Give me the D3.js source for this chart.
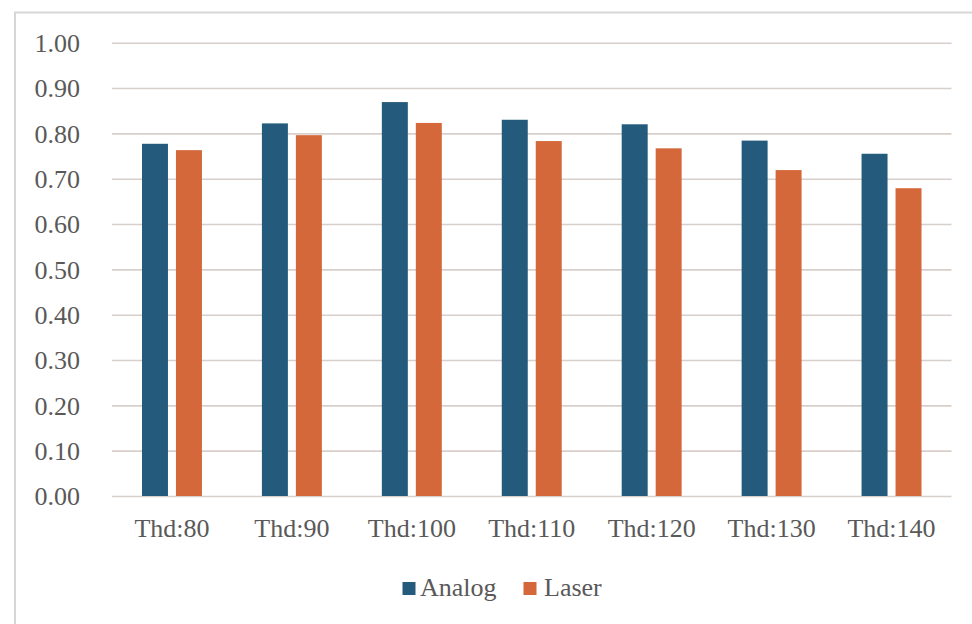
<!DOCTYPE html>
<html>
<head>
<meta charset="utf-8">
<script src="https://cdn.jsdelivr.net/npm/d3@7"></script>
<style>
  html, body { margin: 0; padding: 0; background: #ffffff; }
  svg { display: block; }
  text { font-family: "Liberation Serif", "DejaVu Serif", serif; fill: #595959; }
</style>
</head>
<body>
<svg id="chart" width="972" height="624"></svg>
<script>
// Thresholds along the x axis
const categories = ["Thd:80", "Thd:90", "Thd:100", "Thd:110", "Thd:120", "Thd:130", "Thd:140"];
// Series
const seriesNames = ["Analog", "Laser"];
const analogValues = [0.777, 0.822, 0.869, 0.830, 0.820, 0.784, 0.755];
const laserValues  = [0.763, 0.796, 0.823, 0.783, 0.767, 0.719, 0.679];
// Y axis ticks
const yTicks = [0, 0.1, 0.2, 0.3, 0.4, 0.5, 0.6, 0.7, 0.8, 0.9, 1.0];

const colors = { Analog: "#245b7c", Laser: "#d4683a" };

const svg = d3.select("#chart");
const W = 972, H = 624;

// Chart frame
svg.append("rect")
  .attr("x", 15).attr("y", 12.5)
  .attr("width", W + 20).attr("height", H + 20)
  .attr("fill", "#ffffff")
  .attr("stroke", "#d6d6d6").attr("stroke-width", 2);

const plot = { left: 112, right: 951.5, top: 42.7, bottom: 496 };

const x0 = d3.scaleBand().domain(categories).range([plot.left, plot.right]).padding(0);
const groupWidth = x0.bandwidth() * 0.5;
const x1 = d3.scaleBand().domain(seriesNames)
  .range([(x0.bandwidth() - groupWidth) / 2, (x0.bandwidth() + groupWidth) / 2])
  .paddingInner(8 / 34).paddingOuter(0);
const y = d3.scaleLinear().domain([0, 1]).range([plot.bottom, plot.top]);

// Gridlines
const yAxis = d3.axisLeft(y).tickValues(yTicks).tickSize(-(plot.right - plot.left)).tickFormat(d3.format(".2f"));
const gy = svg.append("g").attr("transform", `translate(${plot.left},0)`).call(yAxis);
gy.select(".domain").remove();
gy.selectAll(".tick line").attr("stroke", "#d8cfcb").attr("stroke-width", 1.6);
gy.selectAll(".tick text")
  .attr("x", -32).attr("dy", "0.34em")
  .style("font-size", "26px").attr("fill", "#595959")
  .style("font-family", "'Liberation Serif', serif");

// Bars
const rows = categories.map((c, i) => ({ cat: c, Analog: analogValues[i], Laser: laserValues[i] }));
const groups = svg.append("g").selectAll("g").data(rows).join("g")
  .attr("transform", d => `translate(${x0(d.cat)},0)`);
groups.selectAll("rect")
  .data(d => seriesNames.map(s => ({ s, v: d[s] })))
  .join("rect")
  .attr("x", d => x1(d.s))
  .attr("width", x1.bandwidth())
  .attr("y", d => y(d.v))
  .attr("height", d => y(0) - y(d.v))
  .attr("fill", d => colors[d.s]);

// Category axis labels
const xAxis = d3.axisBottom(x0).tickSize(0).tickPadding(0);
const gx = svg.append("g").attr("transform", `translate(0,${plot.bottom})`).call(xAxis);
gx.select(".domain").remove();
gx.selectAll(".tick text")
  .attr("y", 41).attr("dy", 0)
  .style("font-size", "26px").attr("fill", "#595959")
  .style("font-family", "'Liberation Serif', serif");

// Legend
const legendItems = [
  { name: "Analog", sx: 402.5, tx: 420 },
  { name: "Laser", sx: 523.5, tx: 544 }
];
const legend = svg.append("g");
legendItems.forEach(it => {
  legend.append("rect")
    .attr("x", it.sx).attr("y", 582)
    .attr("width", 13).attr("height", 13)
    .attr("fill", colors[it.name]);
  legend.append("text")
    .attr("x", it.tx).attr("y", 596)
    .style("font-size", "26px")
    .text(it.name);
});
</script>
</body>
</html>
